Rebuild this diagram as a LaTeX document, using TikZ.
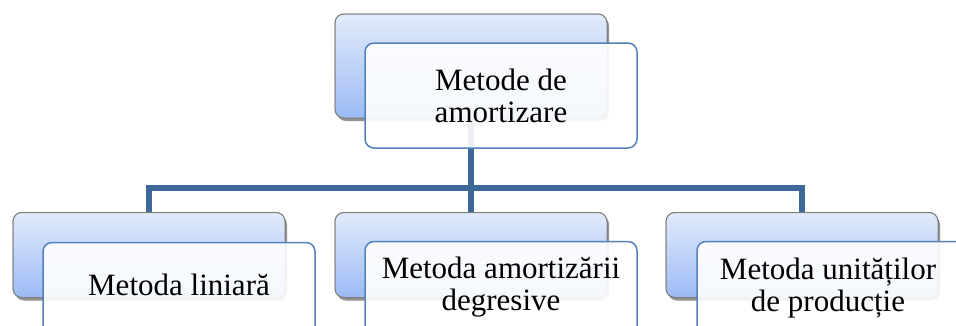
\documentclass[tikz,border=0pt]{standalone}
\usepackage{fontspec}
\setmainfont{Liberation Serif}
\usetikzlibrary{shadows}
\definecolor{backtop}{HTML}{E2EBFB}
\definecolor{backbot}{HTML}{9CBBF4}
\definecolor{backline}{HTML}{7F7F7F}
\definecolor{frontline}{HTML}{5281BE}
\definecolor{connline}{HTML}{3E6898}
\tikzset{
  backbox/.style={draw=backline, line width=1pt, rounded corners=9pt,
    top color=backtop, bottom color=backbot, minimum width=272pt,
    minimum height=#1, inner sep=0pt,
    drop shadow={shadow xshift=2pt, shadow yshift=-3pt, opacity=0.45, fill=black!60}},
  frontbox/.style={draw=frontline, line width=1.5pt, rounded corners=9pt,
    fill=white, fill opacity=0.9, minimum width=272pt, minimum height=105pt,
    inner sep=0pt},
  conn/.style={draw=connline, line width=6pt},
  lbl/.style={anchor=base, align=center, inner sep=0pt,
    font=\fontsize{31}{31.5}\selectfont},
}
\begin{document}
\begin{tikzpicture}[x=1pt, y=-1pt]
\useasboundingbox (0,0) rectangle (956,325);
\clip (0,0) rectangle (956,325);
% bus level of the tree
\coordinate (bus) at (471,188);
% back panels
\node[backbox=104pt] (topback) at (471,66) {};
\node[backbox=85pt] (lback) at (149,255) {};
\node[backbox=85pt] (mback) at (471,255) {};
\node[backbox=85pt] (rback) at (802,255) {};
% connectors under the panels
\draw[conn] (topback.south) -- (mback.north);
\draw[conn] (topback.south |- bus) -| (lback.north);
\draw[conn] (topback.south |- bus) -| (rback.north);
% redraw back panels above the connectors
\node[backbox=104pt] at (471,66) {};
\node[backbox=85pt] at (149,255) {};
\node[backbox=85pt] at (471,255) {};
\node[backbox=85pt] at (802,255) {};
% front panels
\node[frontbox] (topfront) at (501,95.5) {};
\node[frontbox] (lfront) at (179,295) {};
\node[frontbox] (mfront) at (501,294) {};
\node[frontbox] (rfront) at (833,294) {};
% labels (base anchor sits on the last line)
\node[lbl] (ttop) at (501,122) {Metode de\\amortizare};
\node[lbl] (tl) at (179,295) {Metoda liniară};
\node[lbl] (tm) at (501,310) {Metoda amortizării\\degresive};
\node[lbl] (tr) at (828,311) {Metoda unităților\\de producție};
\end{tikzpicture}
\end{document}
